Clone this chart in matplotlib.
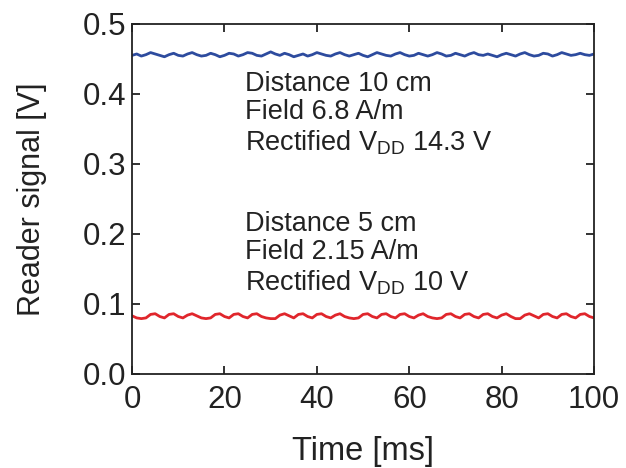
import numpy as np
import matplotlib
matplotlib.use("Agg")
import matplotlib.pyplot as plt

time_ms = list(range(0, 101))

signal_10cm = [
    0.455, 0.457, 0.454, 0.456, 0.459, 0.457, 0.455, 0.453, 0.456, 0.458,
    0.455, 0.454, 0.457, 0.459, 0.456, 0.454, 0.455, 0.458, 0.456, 0.453,
    0.455, 0.458, 0.457, 0.454, 0.456, 0.459, 0.458, 0.455, 0.454, 0.457,
    0.460, 0.457, 0.455, 0.458, 0.456, 0.453, 0.455, 0.457, 0.454, 0.456,
    0.459, 0.457, 0.455, 0.454, 0.457, 0.459, 0.456, 0.454, 0.456, 0.458,
    0.455, 0.453, 0.456, 0.459, 0.457, 0.455, 0.454, 0.457, 0.459, 0.456,
    0.454, 0.455, 0.458, 0.456, 0.454, 0.456, 0.459, 0.457, 0.454, 0.455,
    0.458, 0.456, 0.454, 0.457, 0.459, 0.456, 0.455, 0.457, 0.455, 0.453,
    0.456, 0.458, 0.456, 0.454, 0.457, 0.459, 0.456, 0.454, 0.455, 0.458,
    0.457, 0.454, 0.456, 0.459, 0.457, 0.455, 0.456, 0.458, 0.456, 0.455,
    0.457,
]

signal_5cm = [
    0.083, 0.080, 0.079, 0.080, 0.085, 0.086, 0.082, 0.080, 0.085, 0.086,
    0.082, 0.080, 0.084, 0.086, 0.083, 0.080, 0.079, 0.080, 0.085, 0.086,
    0.082, 0.080, 0.085, 0.086, 0.082, 0.080, 0.085, 0.086, 0.082, 0.080,
    0.079, 0.079, 0.084, 0.086, 0.083, 0.080, 0.085, 0.086, 0.082, 0.080,
    0.085, 0.086, 0.082, 0.080, 0.084, 0.086, 0.082, 0.080, 0.079, 0.080,
    0.085, 0.086, 0.082, 0.080, 0.085, 0.086, 0.082, 0.080, 0.085, 0.086,
    0.082, 0.080, 0.084, 0.086, 0.082, 0.080, 0.079, 0.080, 0.085, 0.086,
    0.082, 0.080, 0.085, 0.086, 0.082, 0.080, 0.085, 0.086, 0.082, 0.080,
    0.084, 0.086, 0.082, 0.079, 0.079, 0.084, 0.086, 0.083, 0.080, 0.085,
    0.086, 0.082, 0.080, 0.085, 0.086, 0.082, 0.080, 0.085, 0.086, 0.082,
    0.080,
]

x_ticks = [0, 20, 40, 60, 80, 100]
y_ticks = [0.0, 0.1, 0.2, 0.3, 0.4, 0.5]

label_10cm = "Distance 10 cm\nField 6.8 A/m\nRectified $\\mathregular{V_{DD}}$ 14.3 V"
label_5cm = "Distance 5 cm\nField 2.15 A/m\nRectified $\\mathregular{V_{DD}}$ 10 V"

plt.rcParams['font.family'] = ['Liberation Sans', 'DejaVu Sans']
plt.rcParams['mathtext.default'] = 'regular'

fig = plt.figure(figsize=(6.26, 4.68), dpi=100)
ax = fig.add_axes([0.211, 0.201, 0.738, 0.748])

ax.plot(time_ms, signal_10cm, color='#2d4b9e', lw=2.0)
ax.plot(time_ms, signal_5cm, color='#e0262c', lw=2.0)

ax.set_xlim(0, 100)
ax.set_ylim(0, 0.5)
ax.set_xticks(x_ticks)
ax.set_yticks(y_ticks)
ax.set_yticklabels(["%.1f" % v for v in y_ticks])
ax.tick_params(direction='in', top=True, right=True, length=6, width=1.3,
               labelsize=22.5, colors='#222222')
ax.tick_params(axis='x', pad=8)
ax.tick_params(axis='y', pad=4)
for s in ax.spines.values():
    s.set_linewidth(1.3)
    s.set_color('#222222')

ax.set_xlabel("Time [ms]", fontsize=23.5, color='#222222', labelpad=15)
ax.set_ylabel("Reader signal [V]", fontsize=22, color='#222222', labelpad=26)

ax.text(24.5, 0.433, label_10cm, fontsize=19.5, va='top', ha='left',
        color='#222222', linespacing=1.13)
ax.text(24.5, 0.233, label_5cm, fontsize=19.5, va='top', ha='left',
        color='#222222', linespacing=1.13)

fig.savefig("out.png", dpi=100)
